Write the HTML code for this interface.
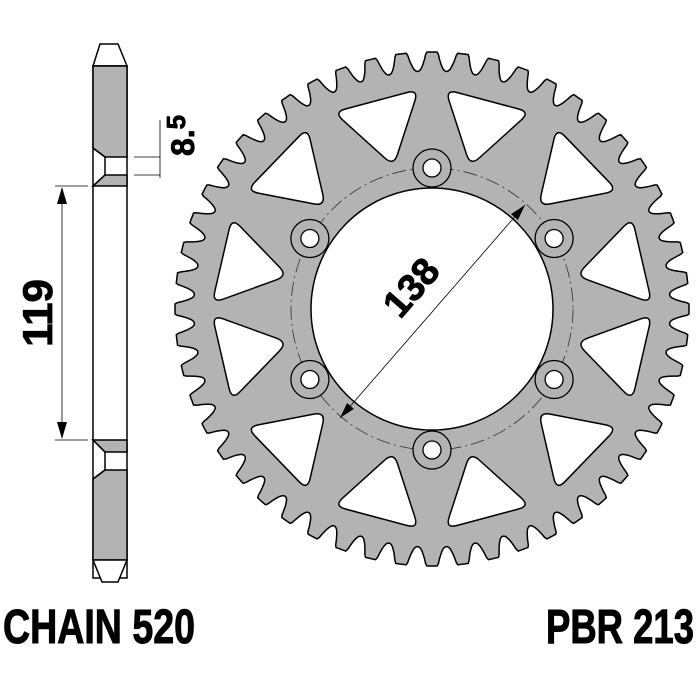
<!DOCTYPE html>
<html><head><meta charset="utf-8"><style>
html,body{margin:0;padding:0;background:#fff;width:700px;height:700px;overflow:hidden}
svg{display:block}
.t{font-family:"Liberation Sans Narrow","Liberation Sans",sans-serif;font-weight:bold;fill:#000}
</style></head><body>
<svg id="s" width="700" height="700" viewBox="0 0 700 700" xmlns="http://www.w3.org/2000/svg">
<g stroke="#000" stroke-width="1.5">
<polygon points="100,44 118,44 127,66 93,66" fill="#fff"/>
<rect x="93" y="66" width="34" height="512" fill="#fff"/>
<polygon points="93,66 127,66 127,157 105,157 93,148" fill="#b3b3b3"/>
<polygon points="105,175 127,175 127,186 93,186" fill="#b3b3b3"/>
<polygon points="93,440 127,440 127,452 105,452" fill="#b3b3b3"/>
<polygon points="105,470 127,470 127,560 93,560 93,479" fill="#b3b3b3"/>
<polygon points="93,560 127,560 118,582 102,582" fill="#fff"/>
<line x1="93" y1="148" x2="105" y2="157"/><line x1="105" y1="157" x2="105" y2="175"/><line x1="105" y1="175" x2="93" y2="186"/>
<line x1="93" y1="440" x2="105" y2="452"/><line x1="105" y1="452" x2="105" y2="470"/><line x1="105" y1="470" x2="93" y2="479"/>
</g>
<g stroke="#000" stroke-width="0.8" fill="none">
<line x1="134" y1="157" x2="160" y2="157"/><line x1="134" y1="175" x2="160" y2="175"/><line x1="160" y1="120" x2="160" y2="178"/>
<line x1="55" y1="186" x2="88" y2="186"/><line x1="55" y1="440" x2="88" y2="440"/><line x1="62" y1="192" x2="62" y2="434"/>
</g>
<polygon points="62,187 57,204 67,204" fill="#000"/>
<polygon points="62,439 57,422 67,422" fill="#000"/>
<text class="t" font-size="32" transform="translate(194,156) rotate(-90)" stroke="#000" stroke-width="0.8">8.<tspan font-size="26" dy="-9">5</tspan></text>
<text class="t" font-size="42" text-anchor="middle" stroke="#000" stroke-width="0.8" transform="translate(52,313) rotate(-90)">119</text>
<g id="gear"></g>
<text class="t" font-size="48" x="3" y="643" stroke="#000" stroke-width="1" textLength="192" lengthAdjust="spacingAndGlyphs">CHAIN 520</text>
<text class="t" font-size="48" x="694" y="643" stroke="#000" stroke-width="1" text-anchor="end" textLength="148" lengthAdjust="spacingAndGlyphs">PBR 213</text>
</svg>
<script>
var cx=432,cy=309,NS="http://www.w3.org/2000/svg",g=document.getElementById('gear');
function el(n,a){var e=document.createElementNS(NS,n);for(var k in a)e.setAttribute(k,a[k]);g.appendChild(e);return e;}
var N=52,Rt=257,Rr=238,pts=[];
for(var i=0;i<N*24;i++){var th=i/(N*24)*2*Math.PI;var ph=(i%24)/24;var d=Math.abs(ph-0.5)*2;
var f; if(d>0.62) f=1; else {var u=d/0.62; f=Math.pow(u,2.2);}
var r=Rr+(Rt-Rr)*f; pts.push((cx+r*Math.sin(th)).toFixed(1)+','+(cy-r*Math.cos(th)).toFixed(1));}
var d='M'+pts.join('L')+'Z';
d+='M'+(cx+121)+','+cy+'A121,121 0 1 0 '+(cx-121)+','+cy+'A121,121 0 1 0 '+(cx+121)+','+cy+'Z';
el('path',{d:d,fill:'#b3b3b3',stroke:'#000','stroke-width':1.5,'fill-rule':'evenodd'});
function P(a,r){a=a*Math.PI/180;return [cx+r*Math.sin(a),cy-r*Math.cos(a)];}
var angs=[15,46,77,103,134,165];angs=angs.concat(angs.map(function(a){return -a;}));
angs.forEach(function(a){
 var A=P(a-11.5,220),B=P(a+11.5,220),C=P(a,148);
 var vs=[A,B,C],s='';
 for(var k=0;k<3;k++){var p=vs[k],q=vs[(k+1)%3],o=vs[(k+2)%3];
  var r=12;function mv(from,to,t){var dx=to[0]-from[0],dy=to[1]-from[1],L=Math.hypot(dx,dy);return [from[0]+dx*t/L,from[1]+dy*t/L];}
  var s1=mv(p,o,r),e1=mv(p,q,r);
  s+=(k?'L':'M')+s1[0].toFixed(1)+','+s1[1].toFixed(1)+'Q'+p[0].toFixed(1)+','+p[1].toFixed(1)+' '+e1[0].toFixed(1)+','+e1[1].toFixed(1);}
 el('path',{d:s+'Z',fill:'#fff',stroke:'#000','stroke-width':1.5,'stroke-linejoin':'round'});
});
el('circle',{cx:cx,cy:cy,r:141,fill:'none',stroke:'#333','stroke-width':0.8,'stroke-dasharray':'14 4 2 4'});
for(var k=0;k<6;k++){var p=P(k*60,141);
 el('circle',{cx:p[0],cy:p[1],r:19,fill:'#b3b3b3',stroke:'#000','stroke-width':1.3});
 el('circle',{cx:p[0],cy:p[1],r:9,fill:'#fff',stroke:'#000','stroke-width':1.3});}
el('line',{x1:340,y1:418,x2:525,y2:205,stroke:'#000','stroke-width':0.8});
function arrow(x,y,ang){var a=ang*Math.PI/180,L=16,w=4.5;var bx=x-L*Math.cos(a),by=y-L*Math.sin(a);
 el('polygon',{points:x+','+y+' '+(bx+w*Math.sin(a))+','+(by-w*Math.cos(a))+' '+(bx-w*Math.sin(a))+','+(by+w*Math.cos(a)),fill:'#000'});}
var ang=Math.atan2(205-418,525-340)*180/Math.PI;
arrow(525,205,ang);arrow(340,418,ang+180);
var t=el('text',{'class':'t','font-size':38,'text-anchor':'middle',stroke:'#000','stroke-width':0.8,transform:'translate(421,296) rotate('+ang+')'});t.textContent='138';
</script>
</body></html>
